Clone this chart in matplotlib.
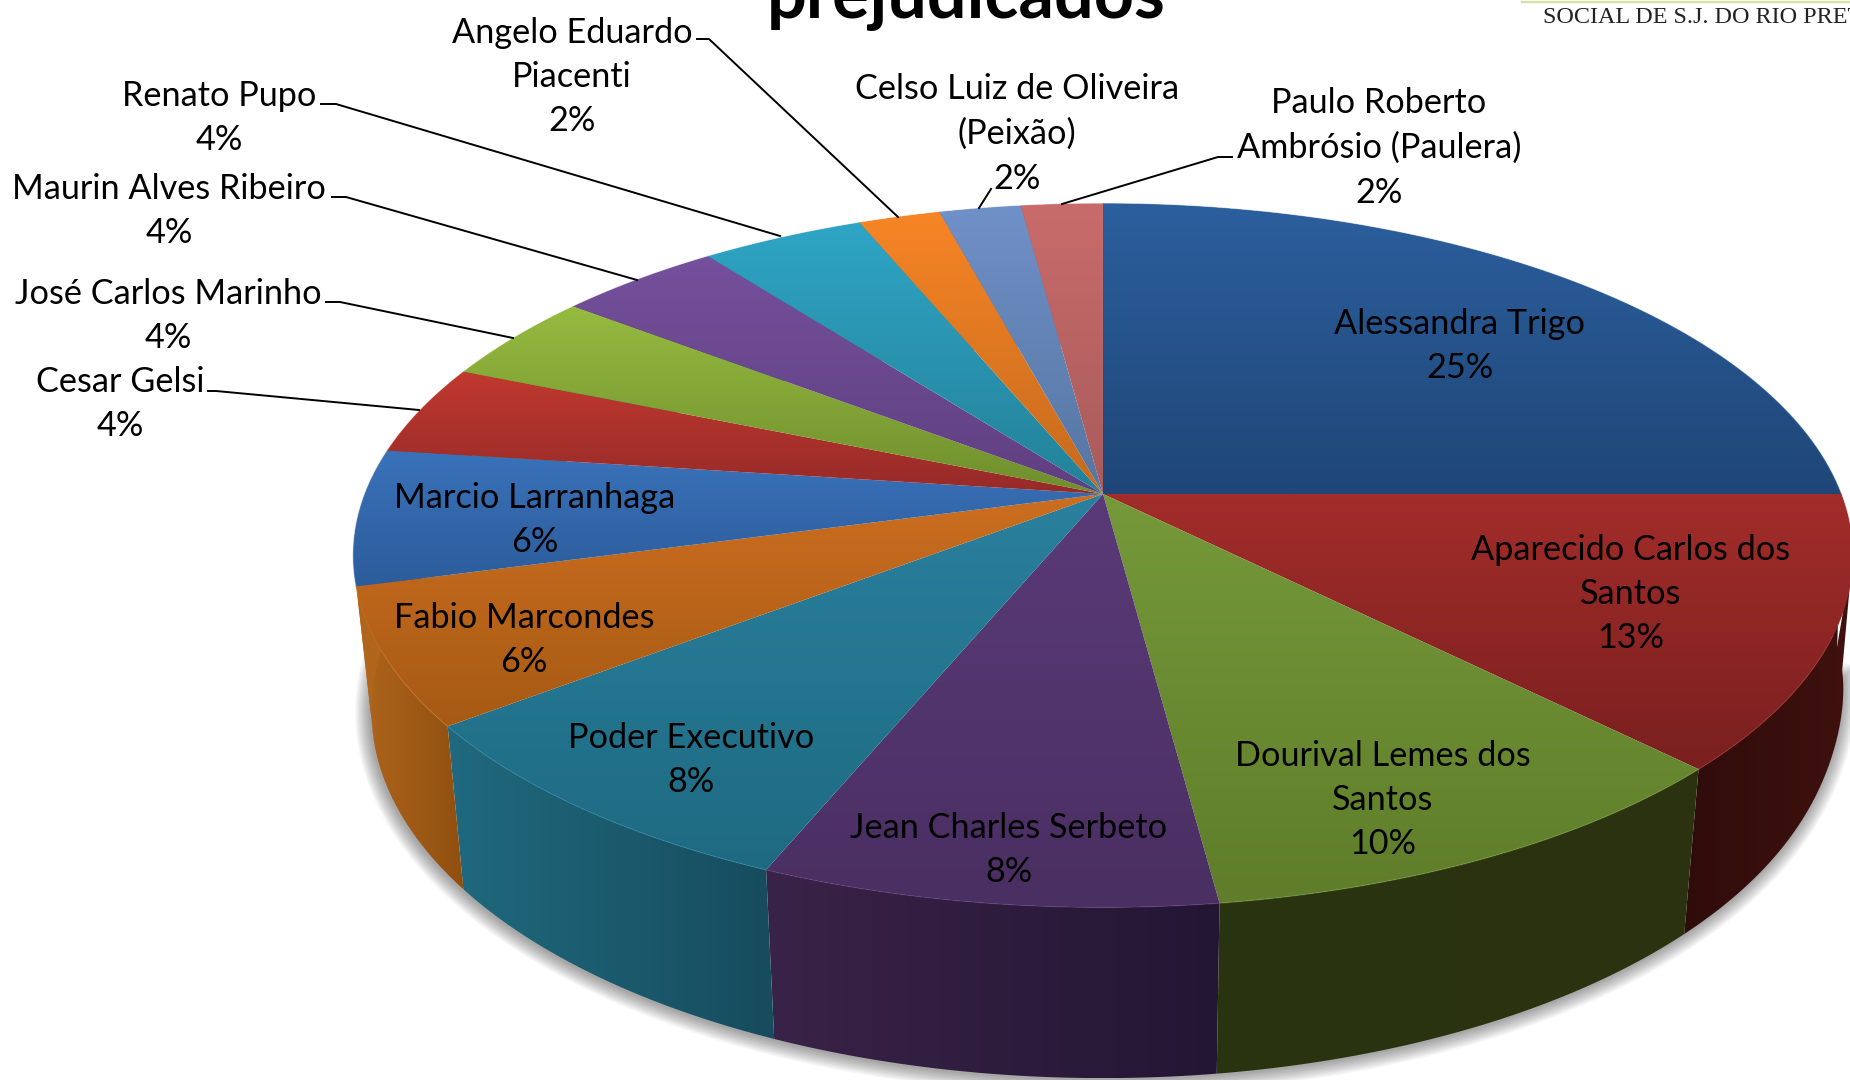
import numpy as np
import matplotlib
matplotlib.use('Agg')
import matplotlib.pyplot as plt
from matplotlib.patches import Polygon
from matplotlib.colors import to_rgb

names = ['Alessandra Trigo', 'Aparecido Carlos dos\nSantos', 'Dourival Lemes dos\nSantos',
         'Jean Charles Serbeto', 'Poder Executivo', 'Fabio Marcondes', 'Marcio Larranhaga',
         'Cesar Gelsi', 'José Carlos Marinho', 'Maurin Alves Ribeiro', 'Renato Pupo',
         'Angelo Eduardo\nPiacenti', 'Celso Luiz de Oliveira\n(Peixão)',
         'Paulo Roberto\nAmbrósio (Paulera)']
counts = [12, 6, 5, 4, 4, 3, 3, 2, 2, 2, 2, 1, 1, 1]
percents = ['25%', '13%', '10%', '8%', '8%', '6%', '6%', '4%', '4%', '4%', '4%', '2%', '2%', '2%']
title = 'prejudicados'
header = 'SOCIAL DE S.J. DO RIO PRETO'

# top face colours (upper, lower) and wall colours (left, right)
top_cols = [('#2C5F9E', '#1F4677'), ('#A22D2A', '#7A1F1F'), ('#76993A', '#5F7D2A'),
            ('#5A3A78', '#4A2F62'), ('#2A809E', '#1E6A82'), ('#CC6E20', '#A65A14'),
            ('#3A72BA', '#2C5C9B'), ('#C0392F', '#962A28'), ('#96BB40', '#6F8E2D'),
            ('#75509C', '#5F3F80'), ('#2FA5C5', '#238199'), ('#F78525', '#C56A1E'),
            ('#7090C8', '#5576A2'), ('#C96B6B', '#A85B5B')]
wall_cols = [('#1A3A62', '#1A3A62'), ('#2F0C0A', '#3F110E'), ('#2B3410', '#2A3210'),
             ('#3A2348', '#231633'), ('#20697E', '#164C5D'), ('#B0661C', '#8F4F10'),
             ('#B0661C', '#B0661C'), ('#962A28', '#962A28'), ('#6F8E2D', '#6F8E2D'),
             ('#5F3F80', '#5F3F80'), ('#238199', '#238199'), ('#C56A1E', '#C56A1E'),
             ('#5576A2', '#5576A2'), ('#A85B5B', '#A85B5B')]

# perspective disc, everything in reference pixels
cx, cy = 1103, 494
A, B, k = 738, 341, 0.175
sx, sy, dy = 0.976, 1.043, 153


def top_xy(t):
    # t clockwise from the top of the pie
    u, v = np.sin(t), np.cos(t)
    w = 1 + k * v
    return cx + A * u / w, cy - B * v / w


def bottom_xy(t):
    x, y = top_xy(t)
    # the right side of the base bulges a little in the reference
    bump = 14 * np.exp(-((t - np.radians(88)) / np.radians(15)) ** 2)
    return cx + sx * (x - cx) + bump, cy + dy + sy * (y - cy)


def fill_gradient(ax, pts, c1, c2, vertical=True):
    pts = np.array(pts)
    c1, c2 = np.array(to_rgb(c1)), np.array(to_rgb(c2))
    f = np.linspace(0, 1, 200)[:, None]
    img = (c1 + (c2 - c1) * f)[:, None, :]
    if not vertical:
        img = img.transpose(1, 0, 2)
    ext = [pts[:, 0].min(), pts[:, 0].max(), pts[:, 1].max(), pts[:, 1].min()]
    poly = Polygon(pts, closed=True, fc='none', ec='none', transform=ax.transData)
    ax.add_patch(poly)
    im = ax.imshow(img, extent=ext, aspect='auto', origin='upper', zorder=poly.get_zorder())
    im.set_clip_path(poly)
    return im


fig = plt.figure(figsize=(18.5, 10.8), dpi=100, facecolor='white')
ax = fig.add_axes([0, 0, 1, 1])
ax.set_xlim(0, 1850)
ax.set_ylim(1080, 0)
ax.axis('off')

edges = np.cumsum([0] + counts) / sum(counts) * 2 * np.pi

# soft shadow under the pie
ring = np.linspace(np.radians(95), np.radians(285), 400)
bx, by = bottom_xy(ring)
for lw in np.arange(2, 24, 2):
    ax.plot(bx - 1, by + 1, color='black', lw=lw, alpha=0.035, zorder=1)

# walls first, the top face covers whatever faces away
for i in range(len(counts)):
    t = np.linspace(edges[i], edges[i + 1], 80)
    x1, y1 = top_xy(t)
    x2, y2 = bottom_xy(t)
    pts = np.column_stack([np.r_[x1, x2[::-1]], np.r_[y1, y2[::-1]]])
    im = fill_gradient(ax, pts, wall_cols[i][0], wall_cols[i][1], vertical=False)
    im.set_zorder(2)

# tangent edge of the wall on the right, from the rim down to the base
t_rim, t_base = np.radians(100), np.radians(90)
ax.add_patch(Polygon([top_xy(t_rim), bottom_xy(t_base), bottom_xy(np.radians(105))],
                     closed=True, fc='#3F110E', ec='none', zorder=2))

for i in range(len(counts)):
    t = np.linspace(edges[i], edges[i + 1], 80)
    x1, y1 = top_xy(t)
    pts = np.column_stack([np.r_[cx, x1], np.r_[cy, y1]])
    im = fill_gradient(ax, pts, top_cols[i][0], top_cols[i][1])
    im.set_zorder(3)
    # light bevel on the rim
    ax.plot(x1, y1, color=top_cols[i][0], lw=1, alpha=0.5, zorder=4)

ax.set_xlim(0, 1850)
ax.set_ylim(1080, 0)

font = 'Lato'
fs = 24.7
# label centres
label_pos = [(1460, 346), (1631, 594), (1383, 800), (1009, 850), (691, 760), (524, 640),
             (535, 520), (120, 404), (168, 316), (169, 211), (219, 118), (572, 77),
             (1017, 134), (1379, 148)]
for name, pct, (x, y) in zip(names, percents, label_pos):
    ax.text(x, y, name + '\n' + pct, ha='center', va='center', ma='center', fontsize=fs,
            family=font, color='black', linespacing=1.48, zorder=6)

leaders = [[(208, 391), (216, 391), (419, 410)],
           [(326, 302), (340, 302), (513, 338)],
           [(332, 197), (346, 197), (637, 280)],
           [(321, 104), (336, 104), (780, 236)],
           [(697, 39), (709, 39), (898, 217)],
           [(991, 189), (979, 208)],
           [(1232, 157), (1218, 157), (1062, 204)]]
for line in leaders:
    xs, ys = zip(*line)
    ax.plot(xs, ys, color='black', lw=1.4, zorder=5)

ax.text(966, 18, title, ha='center', va='baseline', fontsize=50.5, fontweight='bold',
        family='Lato', color='black', zorder=6)

ax.plot([1522, 1850], [2.2, 2.2], color='#D8E2A8', lw=1.7, zorder=5)
ax.text(1543, 23, header, ha='left', va='baseline', fontsize=17.4, family='Liberation Serif',
        color='#222222', zorder=6)

fig.savefig('out.png', dpi=100, facecolor='white')
